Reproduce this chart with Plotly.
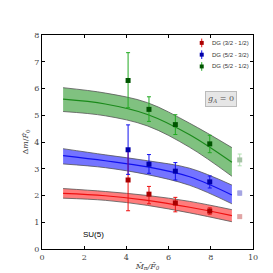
import plotly.graph_objects as go

# ---- data ----
x_pts = [4.08, 5.07, 6.32, 7.95]
x_far = [9.37]

red_y = [2.58, 2.05, 1.72, 1.42]
red_ep = [1.15, 0.29, 0.21, 0.12]
red_em = [1.15, 0.36, 0.33, 0.12]
red_far = [1.21]
red_far_e = [0.05]

blue_y = [3.71, 3.17, 2.91, 2.51]
blue_ep = [0.93, 0.36, 0.32, 0.22]
blue_em = [0.92, 0.34, 0.33, 0.23]
blue_far = [2.09]
blue_far_e = [0.08]

green_y = [6.30, 5.22, 4.65, 3.93]
green_ep = [1.04, 0.47, 0.37, 0.32]
green_em = [1.02, 0.45, 0.37, 0.33]
green_far = [3.33]
green_far_e = [0.22]

band_x = [1, 3, 5, 7, 9]
green_c = [5.60, 5.42, 5.03, 4.27, 3.24]
green_u = [6.03, 5.83, 5.47, 4.70, 3.79]
green_l = [5.14, 4.98, 4.60, 3.80, 2.72]
blue_c = [3.49, 3.30, 3.07, 2.70, 2.02]
blue_u = [3.75, 3.52, 3.30, 3.02, 2.39]
blue_l = [3.18, 3.04, 2.78, 2.38, 1.69]
red_c = [2.08, 1.99, 1.82, 1.56, 1.25]
red_u = [2.26, 2.15, 2.00, 1.78, 1.47]
red_l = [1.90, 1.82, 1.63, 1.35, 1.02]

labels = ["DG (3/2 - 1/2)", "DG (5/2 - 3/2)", "DG (5/2 - 1/2)"]

fig = go.Figure()

bands = [
    (green_u, green_l, green_c, "rgba(60,160,60,0.65)", "#1a8a1a"),
    (blue_u, blue_l, blue_c, "rgba(70,70,255,0.75)", "#1010ee"),
    (red_u, red_l, red_c, "rgba(255,80,80,0.75)", "#ee1010"),
]
for u, l, c, fc, lc in bands:
    fig.add_trace(go.Scatter(x=band_x, y=u, mode="lines", line=dict(color="#555555", width=0.8, shape="spline"),
                             showlegend=False, hoverinfo="skip"))
    fig.add_trace(go.Scatter(x=band_x, y=l, mode="lines", line=dict(color="#555555", width=0.8, shape="spline"),
                             fill="tonexty", fillcolor=fc, showlegend=False, hoverinfo="skip"))
    fig.add_trace(go.Scatter(x=band_x, y=c, mode="lines", line=dict(color=lc, width=1.2, shape="spline"),
                             showlegend=False, hoverinfo="skip"))

series = [
    (red_y, red_ep, red_em, red_far, red_far_e, "#ee1111", "#aa0000", labels[0]),
    (blue_y, blue_ep, blue_em, blue_far, blue_far_e, "#1111ee", "#0000aa", labels[1]),
    (green_y, green_ep, green_em, green_far, green_far_e, "#22aa22", "#005500", labels[2]),
]
for y, ep, em, yf, ef, ec, mc, name in series:
    fig.add_trace(go.Scatter(x=x_pts, y=y, mode="markers", name=name, showlegend=False,
                             marker=dict(symbol="square", size=5, color=mc),
                             error_y=dict(type="data", array=ep, arrayminus=em, color=ec, thickness=1, width=2)))
    fig.add_trace(go.Scatter(x=x_far, y=yf, mode="markers", showlegend=False, opacity=0.35,
                             marker=dict(symbol="square", size=5, color=mc),
                             error_y=dict(type="data", array=ef, color=ec, thickness=1, width=2)))

# compact legend drawn with shapes + annotations (paper coordinates)
leg_rows = [0.963, 0.908, 0.853]
gx, tx = 0.757, 0.795
dx, dy = 0.0095, 0.0092
for (y, ep, em, yf, ef, ec, mc, name), ry in zip(series, leg_rows):
    fig.add_shape(type="line", xref="paper", yref="paper", x0=gx, x1=gx, y0=ry - 2.2 * dy, y1=ry + 2.2 * dy,
                  line=dict(color=ec, width=1))
    fig.add_shape(type="rect", xref="paper", yref="paper", x0=gx - dx, x1=gx + dx, y0=ry - dy, y1=ry + dy,
                  line=dict(width=0), fillcolor=mc)
    fig.add_annotation(xref="paper", yref="paper", x=tx, y=ry, text=name, showarrow=False,
                       xanchor="left", yanchor="middle",
                       font=dict(family="Liberation Sans", size=6, color="#333333"))

axis_common = dict(showline=True, linecolor="black", linewidth=1, mirror="allticks", ticks="inside",
                   ticklen=3, tickcolor="black", showgrid=False, zeroline=False,
                   tickfont=dict(family="DejaVu Serif", size=8, color="#444444"))

fig.update_layout(
    width=273, height=273,
    margin=dict(l=34, r=28, t=27, b=28),
    plot_bgcolor="white", paper_bgcolor="white",
    xaxis=dict(range=[0, 10], dtick=2, **axis_common,
               title=dict(text="<i>M̂<sub>π</sub>/F̂<sub>0</sub></i>", standoff=2,
                          font=dict(family="DejaVu Serif", size=8, color="#444444"))),
    yaxis=dict(range=[0, 8], dtick=1, **axis_common,
               title=dict(text="Δ<i>m</i>/<i>F̂</i><sub>0</sub>", standoff=4,
                          font=dict(family="DejaVu Serif", size=8, color="#444444"))),
    showlegend=False,
)

fig.add_annotation(x=2.42, y=0.56, text="SU(5)", showarrow=False,
                   font=dict(family="Liberation Sans", size=8, color="black"))
fig.add_annotation(x=8.5, y=5.6, text="<i>g<sub>A</sub></i> = 0", showarrow=False,
                   bgcolor="#e6e6e6", bordercolor="#bbbbbb", borderwidth=1, borderpad=2,
                   font=dict(family="DejaVu Serif", size=8, color="#555555"))

fig.write_html("out.html")
